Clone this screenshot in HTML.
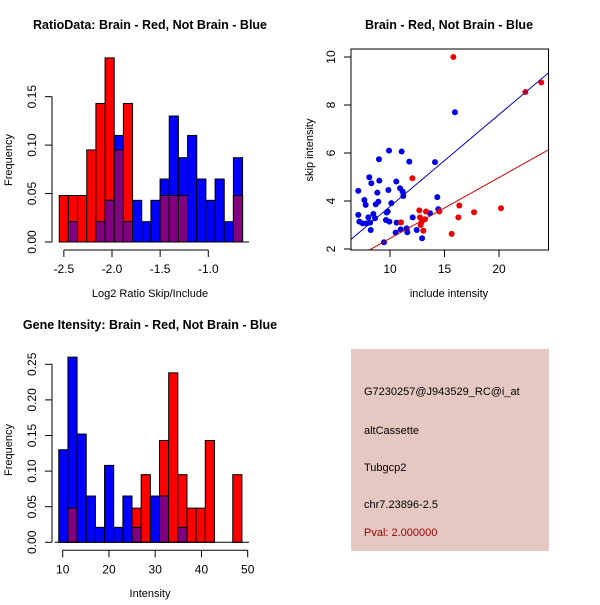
<!DOCTYPE html>
<html><head><meta charset="utf-8"><style>
body{margin:0;background:#fff;}
svg text{font-family:"Liberation Sans",sans-serif;}
</style></head><body>
<svg id="c" width="600" height="600" xmlns="http://www.w3.org/2000/svg">
<rect width="600" height="600" fill="#fff"/>
</svg>
<script>
// ---------- Data: ratio histogram ----------
const ratioBinStart = -2.548;
const ratioBinWidth = 0.0952;
const ratioRed = [0.048,0.048,0.048,0.095,0.143,0.19,0.095,0.143,0,0,0,0.048,0.048,0.048,0,0,0,0,0,0.048];
const ratioBlue = [0,0.021,0,0,0.021,0.043,0.11,0.021,0.043,0.021,0.043,0.065,0.13,0.087,0.11,0.065,0.043,0.065,0.021,0.087];
const ratioXTicks = [-2.5,-2.0,-1.5,-1.0];
const ratioXLabels = ["-2.5","-2.0","-1.5","-1.0"];
const ratioYTicks = [0,0.05,0.10,0.15];
const ratioYLabels = ["0.00","0.05","0.10","0.15"];
// ---------- Data: intensity histogram ----------
const intBinStart = 9.15;
const intBinWidth = 1.98;
const intBlue = [0.13,0.26,0.152,0.065,0.021,0.108,0.021,0.065,0.021,0,0.065,0.065,0,0.021,0,0,0,0,0,0];
const intRed = [0,0.048,0,0,0,0,0,0,0.048,0.095,0,0.143,0.238,0.095,0.048,0.048,0.143,0,0,0.095];
const intXTicks = [10,20,30,40,50];
const intXLabels = ["10","20","30","40","50"];
const intYTicks = [0,0.05,0.10,0.15,0.20,0.25];
const intYLabels = ["0.00","0.05","0.10","0.15","0.20","0.25"];
// ---------- Data: scatter ----------
const blueX = [7.09,7.09,7.19,7.49,7.65,7.77,7.86,8.01,8.10,8.17,8.23,8.29,8.47,8.62,8.69,8.84,8.93,8.99,9.02,9.63,9.69,9.79,9.85,9.91,9.94,10.12,10.52,10.58,10.61,10.92,10.98,11.07,11.16,11.22,11.53,11.59,11.77,12.08,12.45,12.94,13.67,14.13,14.34,14.43,15.96,9.45];
const blueY = [4.42,3.42,3.14,3.07,4.04,3.84,3.07,3.32,4.99,3.10,2.79,4.74,3.46,3.28,3.86,4.35,3.97,5.74,4.85,3.21,3.52,3.56,4.46,6.10,3.14,3.91,2.68,4.81,3.10,4.53,2.82,6.06,4.39,4.21,2.86,2.70,5.64,3.32,2.79,2.45,3.49,5.62,4.16,3.66,7.70,2.28];
const redX = [11.01,12.05,12.69,12.75,12.81,12.91,13.06,13.21,13.30,14.53,15.66,15.81,16.27,16.36,17.71,20.18,22.42,23.88];
const redY = [3.11,4.95,3.61,3.32,3.00,3.14,2.76,3.24,3.56,3.56,2.63,10.0,3.32,3.81,3.53,3.70,8.54,8.94];
const blueFit = [-0.06,0.383]; // intercept, slope
const redFit = [-0.1,0.254];
const scXTicks = [10,15,20];
const scXLabels = ["10","15","20"];
const scYTicks = [2,4,6,8,10];
const scYLabels = ["2","4","6","8","10"];

const svg = document.getElementById('c');
const NS = 'http://www.w3.org/2000/svg';
function mk(tag, attrs, parent){
  const e = document.createElementNS(NS, tag);
  for (const k in attrs) e.setAttribute(k, attrs[k]);
  (parent||svg).appendChild(e);
  return e;
}
function txt(x,y,s,size,opts,parent){
  const t = mk('text',Object.assign({x:x,y:y,'font-size':size,'text-anchor':'middle'},opts||{}),parent);
  t.textContent = s;
  return t;
}

function histogram(cfg){
  const g = mk('g',{});
  
  
  const sx = v => cfg.x0px + (v - cfg.x0) * cfg.xs;
  const sy = v => cfg.y0px - v * cfg.ys;
  const n = cfg.a.length;
  for (let i=0;i<n;i++){
    const l = sx(cfg.start + i*cfg.w), r = sx(cfg.start + (i+1)*cfg.w);
    const a = cfg.a[i], b = cfg.b[i];
    if (a>0){ const e = mk('rect',{x:l,y:sy(a),width:r-l,height:sy(0)-sy(a),fill:cfg.ca,stroke:'#000','stroke-width':1},g);
        }
    if (b>0){ const e = mk('rect',{x:l,y:sy(b),width:r-l,height:sy(0)-sy(b),fill:cfg.cb,stroke:'#000','stroke-width':1},g);
        }
    const m = Math.min(a,b);
    if (m>0){ const e = mk('rect',{x:l,y:sy(m),width:r-l,height:sy(0)-sy(m),fill:'#800080',stroke:'#000','stroke-width':1},g);
        }
  }
  const xa = mk('g',{},g);
   
  const ax = cfg.xt, ay = cfg.y0px + 8;
  mk('line',{x1:sx(ax[0]),x2:sx(ax[ax.length-1]),y1:ay,y2:ay,stroke:'#000'},xa);
  ax.forEach((v,i)=>{ mk('line',{x1:sx(v),x2:sx(v),y1:ay,y2:ay+7,stroke:'#000'},xa);
    txt(sx(v),ay+23,cfg.xl[i],12,{},xa); });
  mk('line',{x1:cfg.x0px-8+(cfg.basel||0),x2:cfg.baser,y1:cfg.y0px,y2:cfg.y0px,stroke:'#000'},g);
  const ya = mk('g',{},g);
   
  const yx = cfg.yaxisX;
  mk('line',{x1:yx,x2:yx,y1:sy(cfg.yt[0]),y2:sy(cfg.yt[cfg.yt.length-1]),stroke:'#000'},ya);
  cfg.yt.forEach((v,i)=>{ mk('line',{x1:yx-7,x2:yx,y1:sy(v),y2:sy(v),stroke:'#000'},ya);
    txt(yx-16,sy(v),cfg.yl[i],12,{transform:'rotate(-90 '+(yx-16)+' '+sy(v)+')'},ya); });
  const yt = txt(12,cfg.ymid,'Frequency',11,{transform:'rotate(-90 12 '+cfg.ymid+')'},g);
   
  const xt = txt(cfg.xtitleX,cfg.xtitleY,cfg.xtitle,11,{},g);
   
  const tt = txt(cfg.titleX,cfg.titleY,cfg.title,12.5,{'font-weight':'bold'},g);
   
}

histogram({name:'ratio-histogram',a:ratioRed,b:ratioBlue,ca:'#ff0000',cb:'#0000ff',na:'brain',nb:'not-brain',
  start:ratioBinStart,w:ratioBinWidth,x0:-2.0,x0px:112,xs:96.3,y0px:242,ys:969,
  xt:ratioXTicks,xl:ratioXLabels,yt:ratioYTicks,yl:ratioYLabels,yaxisX:52,baser:249,basel:0,
  ymid:160,xtitleX:150,xtitleY:297,xtitle:'Log2 Ratio Skip/Include',titleX:150,titleY:29,
  title:'RatioData: Brain - Red, Not Brain - Blue'});
histogram({name:'intensity-histogram',a:intBlue,b:intRed,ca:'#0000ff',cb:'#ff0000',na:'not-brain',nb:'brain',
  start:intBinStart,w:intBinWidth,x0:10,x0px:62.7,xs:4.625,y0px:542.3,ys:712,
  xt:intXTicks,xl:intXLabels,yt:intYTicks,yl:intYLabels,yaxisX:52,baser:249,basel:0,
  ymid:450,xtitleX:150,xtitleY:597,xtitle:'Intensity',titleX:150,titleY:329,
  title:'Gene Itensity: Brain - Red, Not Brain - Blue'});

// ---------- scatter ----------
(function(){
  const g = mk('g',{});
   
  const sx = v => 390 + (v-10)*10.9;
  const sy = v => 249 - (v-2)*24;
  const L=351, R=548.5, T=49, B=250;
  const cp = mk('clipPath',{id:'clip'},g);
  mk('rect',{x:L,y:T,width:R-L,height:B-T},cp);
  blueX.forEach((x,i)=>{ const c = mk('circle',{cx:sx(x),cy:sy(blueY[i]),r:3,fill:'#0000e6'},g);
      });
  redX.forEach((x,i)=>{ const c = mk('circle',{cx:sx(x),cy:sy(redY[i]),r:3,fill:'#ee0000'},g);
      });
  const x1 = 6.4, x2 = 24.6;
  const bl = mk('line',{x1:sx(x1),y1:sy(blueFit[0]+blueFit[1]*x1),x2:sx(x2),y2:sy(blueFit[0]+blueFit[1]*x2),stroke:'#0000cc','clip-path':'url(#clip)'},g);
   
  const rl = mk('line',{x1:sx(x1),y1:sy(redFit[0]+redFit[1]*x1),x2:sx(x2),y2:sy(redFit[0]+redFit[1]*x2),stroke:'#cc0000','clip-path':'url(#clip)'},g);
   
  const box = mk('rect',{x:L,y:T,width:R-L,height:B-T,fill:'none',stroke:'#000'},g);
   
  const xa = mk('g',{},g);
   
  scXTicks.forEach((v,i)=>{ mk('line',{x1:sx(v),x2:sx(v),y1:B,y2:B+7,stroke:'#000'},xa); txt(sx(v),B+23,scXLabels[i],12,{},xa); });
  const ya = mk('g',{},g);
   
  scYTicks.forEach((v,i)=>{ mk('line',{x1:L-7,x2:L,y1:sy(v),y2:sy(v),stroke:'#000'},ya);
    txt(L-16,sy(v),scYLabels[i],12,{transform:'rotate(-90 '+(L-16)+' '+sy(v)+')'},ya); });
  const xt = txt(449,297,'include intensity',11,{},g);
   
  const yt = txt(313,150,'skip intensity',11,{transform:'rotate(-90 313 150)'},g);
   
  const tt = txt(449,29,'Brain - Red, Not Brain - Blue',12.5,{'font-weight':'bold'},g);
   
})();

// ---------- info box ----------
(function(){
  const g = mk('g',{});
   
  mk('rect',{x:351,y:349,width:198,height:202,fill:'#e6c8c2'},g);
  const lines = [['G7230257@J943529_RC@i_at',395,'#000','probe-id'],['altCassette',434,'#000','event-type'],['Tubgcp2',471,'#000','gene-name'],['chr7.23896-2.5',508,'#000','location'],['Pval: 2.000000',536,'#990000','p-value']];
  lines.forEach(l=>{ const t = txt(364,l[1],l[0],11,{'text-anchor':'start',fill:l[2]},g);
      });
})();
</script>
</body></html>
